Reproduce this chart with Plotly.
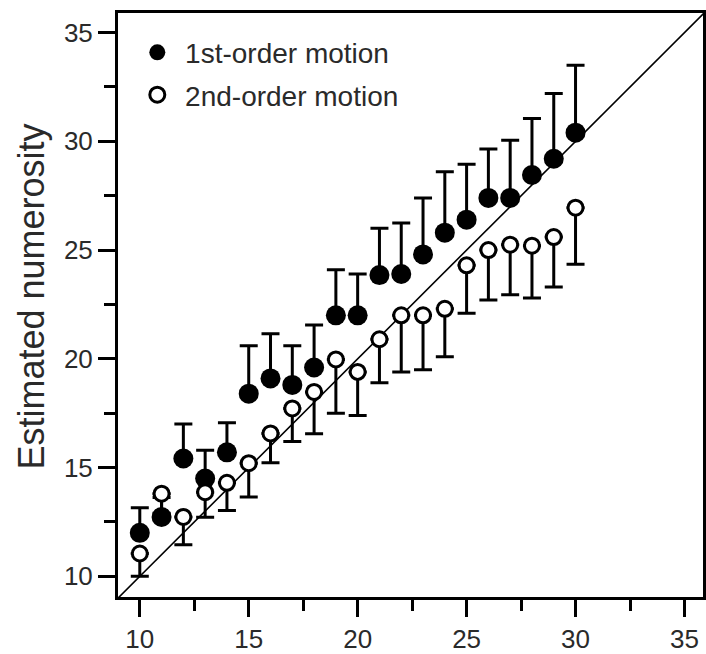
import plotly.graph_objects as go

# ---- data ----
actual = [10, 11, 12, 13, 14, 15, 16, 17, 18, 19, 20, 21, 22, 23, 24, 25, 26, 27, 28, 29, 30]
first_mean = [12.0, 12.73, 15.42, 14.5, 15.7, 18.4, 19.1, 18.8, 19.6, 22.0, 22.0, 23.85, 23.9, 24.8, 25.8,
              26.4, 27.4, 27.4, 28.45, 29.2, 30.4]
first_err_up = [1.15, 0.9, 1.58, 1.3, 1.36, 2.2, 2.05, 1.8, 1.95, 2.1, 1.9, 2.15, 2.35, 2.6, 2.8,
                2.55, 2.25, 2.65, 2.6, 3.0, 3.1]
second_mean = [11.05, 13.8, 12.73, 13.87, 14.3, 15.2, 16.57, 17.72, 18.48, 19.97, 19.4, 20.9, 22.0, 22.0, 22.3,
               24.3, 25.0, 25.25, 25.2, 25.6, 26.95]
second_err_down = [1.05, 0.9, 1.28, 1.15, 1.27, 1.55, 1.35, 1.52, 1.93, 2.47, 2.0, 2.0, 2.6, 2.5, 2.2,
                   2.2, 2.3, 2.3, 2.4, 2.3, 2.6]
zeros = [0] * len(actual)

series_names = ["1st-order motion", "2nd-order motion"]
x_range = [9.0, 35.85]
y_range = [9.05, 35.9]
tick_vals = [10, 15, 20, 25, 30, 35]
tick_text = [str(v) for v in tick_vals]

FONT = "Liberation Sans, Arial, Helvetica, sans-serif"
NBSP = "\u00a0"

fig = go.Figure()

# identity line across the whole plot area
lo = min(x_range[0], y_range[0])
hi = max(x_range[1], y_range[1])
fig.add_trace(go.Scatter(x=[lo, hi], y=[lo, hi], mode="lines",
                         line=dict(color="black", width=1.6), showlegend=False, hoverinfo="skip"))

fig.add_trace(go.Scatter(
    x=actual, y=first_mean, mode="markers", name=NBSP + series_names[0], legendgroup="a",
    marker=dict(symbol="circle", size=20, color="black", line=dict(width=0)),
    error_y=dict(type="data", symmetric=False, array=first_err_up, arrayminus=zeros,
                 thickness=3, width=9, color="black"),
))
fig.add_trace(go.Scatter(
    x=actual, y=second_mean, mode="markers", name=NBSP + series_names[1], legendgroup="b",
    marker=dict(symbol="circle", size=15, color="white", line=dict(width=3, color="black")),
    error_y=dict(type="data", symmetric=False, array=zeros, arrayminus=second_err_down,
                 thickness=3, width=9, color="black"),
))

axis_common = dict(
    showgrid=False, zeroline=False, showline=True, linecolor="black", linewidth=3, mirror=True,
    ticks="outside", ticklen=17, tickwidth=3, tickcolor="black",
    tickmode="array", tickvals=tick_vals, ticktext=tick_text,
    tickfont=dict(family=FONT, size=26, color="#2a2a2a"),
    minor=dict(ticks="outside", ticklen=11, tickwidth=3, tickcolor="black", dtick=2.5, tick0=0),
)

fig.update_layout(
    width=706, height=654,
    margin=dict(l=118, r=0, t=13, b=51),
    paper_bgcolor="white", plot_bgcolor="white",
    xaxis=dict(range=x_range, **axis_common),
    yaxis=dict(range=y_range, **axis_common),
    showlegend=True,
    legend=dict(x=0.033, y=0.975, xanchor="left", yanchor="top",
                bgcolor="rgba(0,0,0,0)", borderwidth=0, tracegroupgap=3,
                font=dict(family=FONT, size=28, color="#2a2a2a")),
    annotations=[dict(text="Estimated numerosity", textangle=-90, xref="paper", yref="paper",
                      x=-(118 - 31) / 588, y=(603 - 299) / 590, xanchor="center", yanchor="middle",
                      showarrow=False, font=dict(family=FONT, size=36, color="#2a2a2a"))],
)

fig.write_html("out.html")
